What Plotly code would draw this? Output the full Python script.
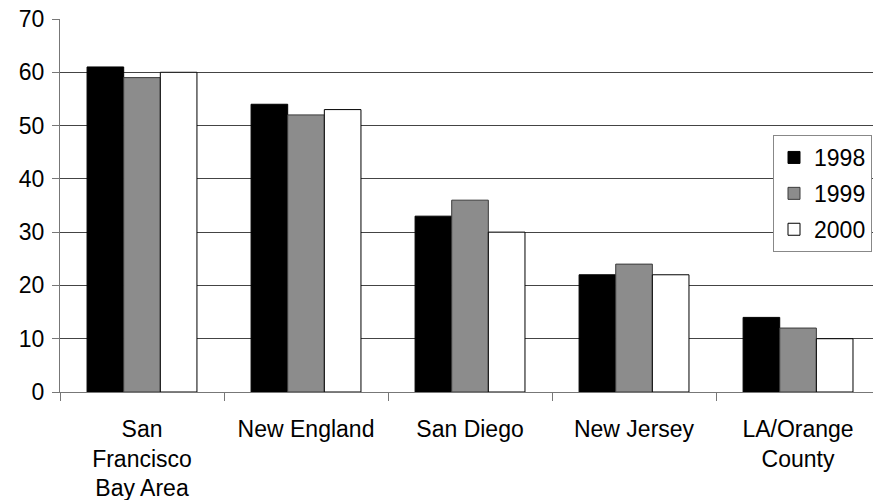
import plotly.graph_objects as go

# Regions and yearly values
regions = ["San<br>Francisco<br>Bay Area", "New England", "San Diego", "New Jersey", "LA/Orange<br>County"]
years = ["1998", "1999", "2000"]
values_1998 = [61, 54, 33, 22, 14]
values_1999 = [59, 52, 36, 24, 12]
values_2000 = [60, 53, 30, 22, 10]
y_ticks = [0, 10, 20, 30, 40, 50, 60, 70]

series = [values_1998, values_1999, values_2000]
fills = ["#000000", "#8c8c8c", "#ffffff"]
outlines = ["#000000", "#3a3a3a", "#000000"]

FONT = "Liberation Sans, Arial, Helvetica, sans-serif"

fig = go.Figure()
for yr, vals, fc, lc in zip(years, series, fills, outlines):
    fig.add_trace(go.Bar(
        name=yr, x=regions, y=vals,
        marker=dict(color=fc, line=dict(color=lc, width=1)),
        legendgroup=yr,
    ))

fig.update_layout(
    width=873, height=500,
    margin=dict(l=60, r=0, t=19, b=108),
    paper_bgcolor="white", plot_bgcolor="white",
    barmode="group", bargap=0.33, bargroupgap=0,
    font=dict(family=FONT, size=23, color="black"),
    showlegend=True,
    legend=dict(
        x=0.877, y=0.689, xanchor="left", yanchor="top",
        bordercolor="#888888", borderwidth=1, bgcolor="white",
        font=dict(family=FONT, size=23, color="black"),
        traceorder="grouped", tracegroupgap=3,
        itemwidth=30,
    ),
)

fig.update_xaxes(
    type="category",
    range=[-0.5, 4.457],
    showline=True, linecolor="#777777", linewidth=1,
    ticks="outside", tickson="boundaries", ticklen=8, tickcolor="#777777",
    ticklabelstandoff=16,
    showgrid=False,
    tickfont=dict(family=FONT, size=23, color="black"),
)
fig.update_yaxes(
    range=[0, 70], tickvals=y_ticks,
    showline=True, linecolor="#777777", linewidth=1,
    ticks="outside", ticklen=7, tickcolor="#777777",
    ticklabelstandoff=3,
    showgrid=True, gridcolor="#444444", gridwidth=1,
    zeroline=False,
    tickfont=dict(family=FONT, size=23, color="black"),
)

fig.write_html("out.html")
